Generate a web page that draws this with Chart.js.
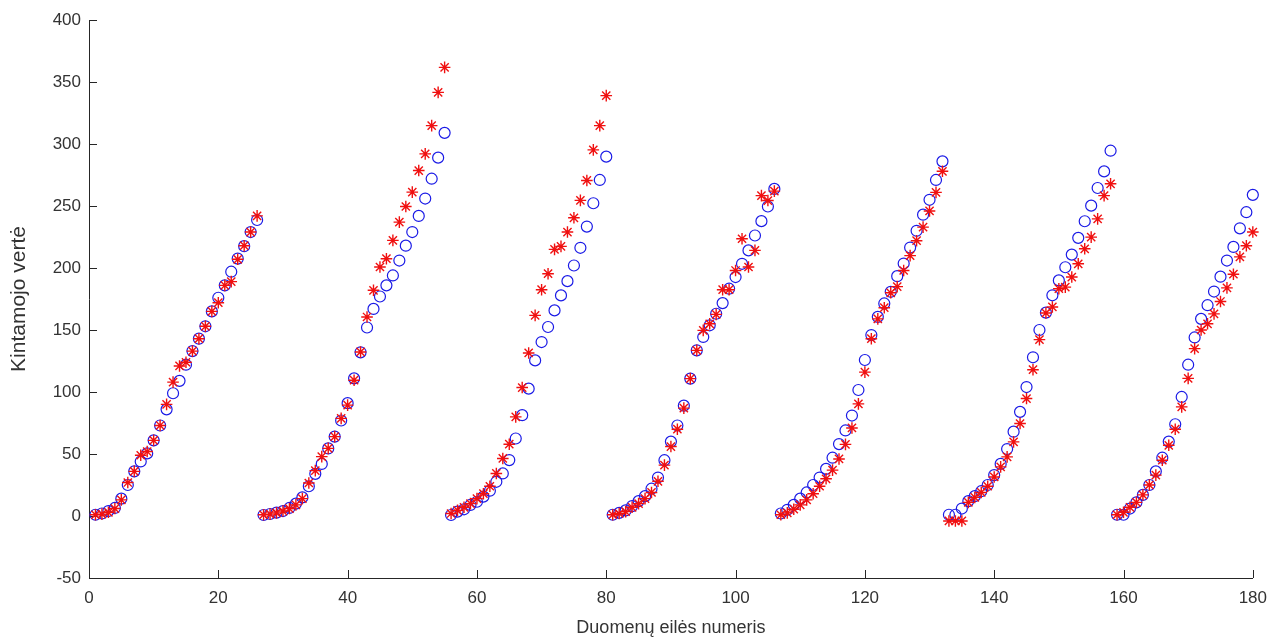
<!DOCTYPE html>
<html>
<head>
<meta charset="utf-8">
<title>Kintamojo vertė</title>
<script src="https://cdn.jsdelivr.net/npm/chart.js@4.4.1/dist/chart.umd.min.js"></script>
<style>
  html, body { margin: 0; padding: 0; background: #ffffff; }
  #wrap { width: 1277px; height: 639px; }
</style>
</head>
<body>
<div id="wrap"><canvas id="chart" width="1277" height="639"></canvas></div>
<script>
// first x value of every run of points
const segmentStarts = [1, 27, 56, 81, 107, 133, 159];

// blue circles, one array per run
const blueSeg1 = [1, 2, 4, 6.5, 14, 25, 36, 44, 50.5, 61, 73, 86, 99, 109, 122, 133, 143, 153, 165, 176, 186, 197, 207.6, 217.6, 229, 238.7];
const blueSeg2 = [0.8, 1.6, 2.7, 4, 6.5, 10, 15, 24, 34, 42, 54.5, 64, 77, 91, 111, 132, 152, 167, 177, 186, 194, 206, 218, 229, 242, 256, 272, 289, 309];
const blueSeg3 = [0.8, 3.5, 5.4, 8.9, 11.5, 15.6, 20.4, 27.6, 34.3, 45.1, 62.5, 81.3, 102.7, 125.5, 140.3, 152.4, 165.8, 177.9, 189.4, 202, 216.3, 233.4, 252.2, 271, 289.8];
const blueSeg4 = [1, 2.5, 4.5, 8, 12, 16, 22, 31, 45, 60, 73, 89, 110.8, 133.6, 144.4, 153.8, 163.1, 171.7, 183.3, 192.7, 203.4, 214.2, 226.2, 237.8, 249.6, 263.8];
const blueSeg5 = [2, 5, 9, 14, 19, 25, 31, 38, 47, 58, 69, 81, 101.6, 125.8, 145.9, 160.6, 171.4, 180.8, 193.4, 203.6, 216.5, 230, 243, 255, 271, 286];
const blueSeg6 = [1, 1, 6, 12, 16, 20, 25, 33, 42, 54, 68, 84, 104, 128, 150, 164, 178, 190, 200.6, 210.8, 224.3, 237.7, 250.3, 264.5, 277.9, 294.6];
const blueSeg7 = [1, 1, 6, 11, 17, 25, 36, 47, 60, 74, 96, 122, 144, 159, 170, 181, 193, 206, 217, 232, 245, 259];

// red asterisks, one array per run
const redSeg1 = [1, 1.5, 3, 6, 13, 27, 36, 49, 52, 61, 73, 90, 108, 121, 124, 133, 143, 153, 165, 172, 186, 189, 207, 218, 229, 242];
const redSeg2 = [1, 1.5, 2.5, 4, 6, 9, 14, 26.6, 36.6, 47.9, 54.5, 64, 78.7, 89.4, 109.5, 132.3, 160.5, 182, 200.8, 207.5, 222.3, 237, 249.6, 261.2, 278.6, 292, 314.8, 341.6, 361.8];
const redSeg3 = [2, 4.5, 7, 10, 14, 18, 24, 34.3, 46.4, 57.9, 79.9, 103.6, 131.5, 161.8, 182.5, 195.4, 215, 217.4, 229, 240.5, 254.5, 270.6, 295.3, 314.8, 339];
const redSeg4 = [1, 2, 3.5, 7, 10, 14, 19, 28, 41, 56, 70, 87, 110.8, 133.6, 149.7, 155, 162.6, 182.5, 182.5, 198, 223.6, 200.8, 214.2, 258.4, 254.4, 262];
const redSeg5 = [1, 2.5, 5.5, 9, 13, 18, 24, 30, 37, 46, 57.8, 71, 90.4, 116, 143, 159, 168, 180, 185, 198, 210, 222, 233, 246, 261, 278];
const redSeg6 = [-4, -4, -4, 11, 15, 19, 24, 31.5, 39.6, 47.7, 59.8, 74.6, 94.7, 118, 142.2, 163.7, 168.6, 183.3, 184.6, 192.7, 203.4, 215.5, 224.9, 239.6, 258.4, 267.9];
const redSeg7 = [1, 3, 7, 11, 17, 25, 33, 45, 57, 70, 88, 111, 135, 150, 155, 163, 173, 184, 195, 209, 218, 229];

const xTicks = [0, 20, 40, 60, 80, 100, 120, 140, 160, 180];
const yTicks = [-50, 0, 50, 100, 150, 200, 250, 300, 350, 400];

const AXISCOLOR = "#262626";
const FONTFAMILY = "'Liberation Sans', Arial, Helvetica, sans-serif";
const TICKLENGTH = 8;

function buildPoints(segments){
  const points = [];
  segments.forEach((seg, s) => {
    seg.forEach((value, i) => {
      points.push({ x: segmentStarts[s] + i, y: value });
    });
  });
  return points;
}

// matlab style ticks, pointing into the plot
const innerTicks = {
  id: "innerTicks",
  beforeDatasetsDraw(chart){
    const { ctx, chartArea, scales } = chart;
    ctx.save();
    ctx.strokeStyle = AXISCOLOR;
    ctx.lineWidth = 1;
    ctx.beginPath();
    scales.x.ticks.forEach(t => {
      const px = Math.round(scales.x.getPixelForValue(t.value)) + 0.5;
      ctx.moveTo(px, chartArea.bottom);
      ctx.lineTo(px, chartArea.bottom - TICKLENGTH);
    });
    scales.y.ticks.forEach(t => {
      const py = Math.round(scales.y.getPixelForValue(t.value)) + 0.5;
      ctx.moveTo(chartArea.left, py);
      ctx.lineTo(chartArea.left + TICKLENGTH, py);
    });
    ctx.stroke();
    ctx.restore();
  }
};

const ctx = document.getElementById("chart").getContext("2d");
const chart = new Chart(ctx, {
  type: "scatter",
  data: {
    datasets: [
      {
        label: "asterisks",
        data: buildPoints([redSeg1, redSeg2, redSeg3, redSeg4, redSeg5, redSeg6, redSeg7]),
        pointStyle: "star",
        pointRadius: 5.8,
        borderColor: "#f01010",
        backgroundColor: "#f01010",
        borderWidth: 1.4,
        clip: false,
        order: 0
      },
      {
        label: "circles",
        data: buildPoints([blueSeg1, blueSeg2, blueSeg3, blueSeg4, blueSeg5, blueSeg6, blueSeg7]),
        pointStyle: "circle",
        pointRadius: 5.5,
        borderColor: "#1a1ae6",
        backgroundColor: "rgba(0,0,0,0)",
        borderWidth: 1.2,
        clip: false,
        order: 1
      }
    ]
  },
  options: {
    responsive: false,
    animation: false,
    devicePixelRatio: 1,
    layout: { padding: { top: 20, right: 19, left: 0, bottom: 0 } },
    plugins: {
      legend: { display: false },
      tooltip: { enabled: false }
    },
    scales: {
      x: {
        type: "linear",
        min: 0,
        max: 180,
        afterBuildTicks: axis => { axis.ticks = xTicks.map(v => ({ value: v })); },
        afterFit: scale => { scale.height = 61; },
        grid: { display: false, drawTicks: false },
        border: { display: true, color: AXISCOLOR, width: 1 },
        ticks: {
          padding: 10,
          color: "#333333",
          maxRotation: 0,
          font: { family: FONTFAMILY, size: 17 }
        },
        title: {
          display: true,
          text: "Duomenų eilės numeris",
          color: "#333333",
          padding: { top: 0, bottom: 0 },
          font: { family: FONTFAMILY, size: 18 }
        }
      },
      y: {
        type: "linear",
        min: -50,
        max: 400,
        afterBuildTicks: axis => { axis.ticks = yTicks.map(v => ({ value: v })); },
        afterFit: scale => { scale.width = 89; },
        grid: { display: false, drawTicks: false },
        border: { display: true, color: AXISCOLOR, width: 1 },
        ticks: {
          padding: 8,
          color: "#333333",
          font: { family: FONTFAMILY, size: 17 }
        },
        title: {
          display: true,
          text: "Kintamojo vertė",
          color: "#333333",
          padding: { top: 7, bottom: 0 },
          font: { family: FONTFAMILY, size: 21 }
        }
      }
    }
  },
  plugins: [innerTicks]
});
</script>
</body>
</html>
